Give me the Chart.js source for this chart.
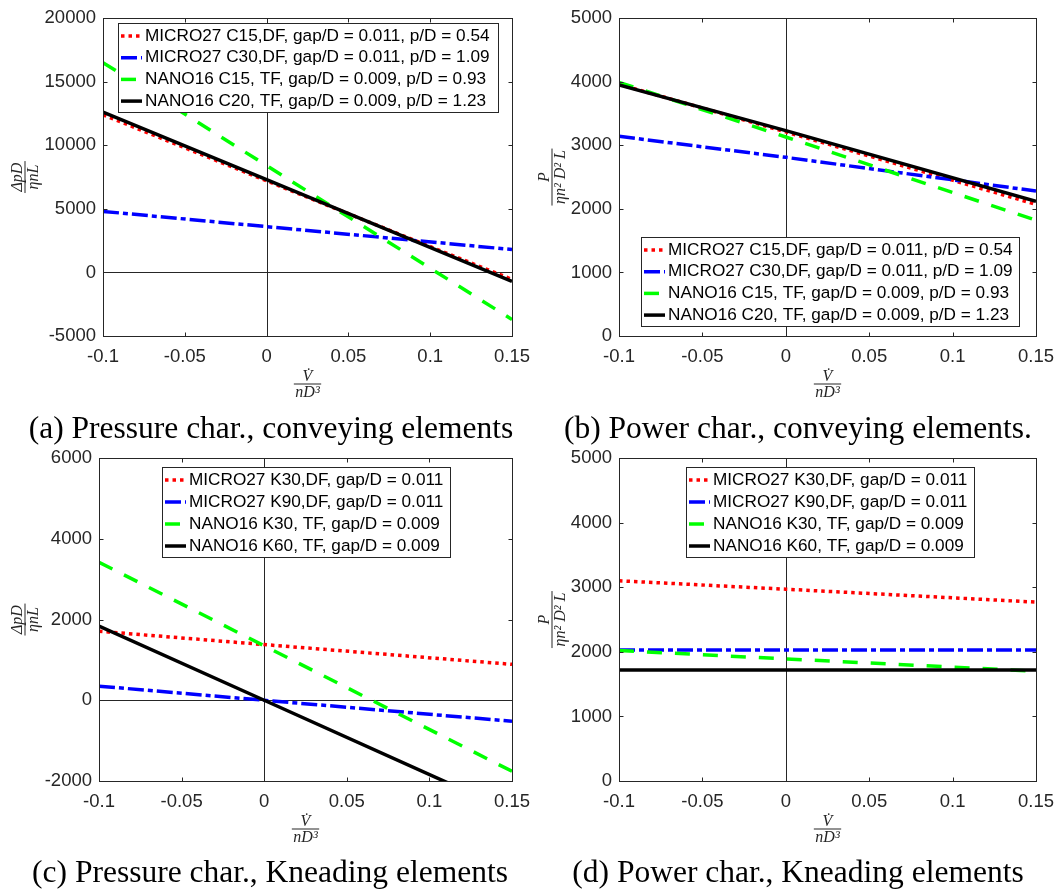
<!DOCTYPE html>
<html>
<head>
<meta charset="utf-8">
<script src="https://cdn.jsdelivr.net/npm/chart.js@4.4.1/dist/chart.umd.min.js"></script>
<style>
  html, body { margin: 0; padding: 0; background: #fff; }
  #page { position: relative; width: 1064px; height: 895px; overflow: hidden; }
  canvas { position: absolute; }
  .caption {
    position: absolute; width: 530px; text-align: center; white-space: nowrap;
    font-family: "Liberation Serif", "Times New Roman", serif; font-size: 31.5px; line-height: 32px; color: #000;
  }
</style>
</head>
<body>
<div id="page">
  <canvas id="chart-a" width="545" height="440" style="left:0;top:0"></canvas>
  <canvas id="chart-b" width="534" height="440" style="left:530px;top:0"></canvas>
  <canvas id="chart-c" width="545" height="455" style="left:0;top:440px"></canvas>
  <canvas id="chart-d" width="534" height="455" style="left:530px;top:440px"></canvas>
  <div class="caption" style="left:6px;top:412px">(a) Pressure char., conveying elements</div>
  <div class="caption" style="left:533px;top:412px">(b) Power char., conveying elements.</div>
  <div class="caption" style="left:5px;top:856px">(c) Pressure char., Kneading elements</div>
  <div class="caption" style="left:533px;top:856px">(d) Power char., Kneading elements</div>
</div>
<script>
// Valores de vazão adimensional onde as curvas foram lidas
const xVals = [-0.1, 0, 0.15];
const xTicks = [-0.1, -0.05, 0, 0.05, 0.1, 0.15];

// (a) Pressão, elementos de transporte
const pressConvMicroC15 = [12400, 7200, -550];
const pressConvMicroC30 = [4800, 3600, 1800];
const pressConvNanoC15 = [16500, 8400, -3700];
const pressConvNanoC20 = [12600, 7300, -700];
const yTicksA = [-5000, 0, 5000, 10000, 15000, 20000];

// (b) Potência, elementos de transporte
const powerConvMicroC15 = [3960, 3210, 2070];
const powerConvMicroC30 = [3140, 2810, 2280];
const powerConvNanoC15 = [3990, 3130, 1820];
const powerConvNanoC20 = [3950, 3230, 2120];
const yTicksB = [0, 1000, 2000, 3000, 4000, 5000];

// (c) Pressão, elementos de mistura
const pressKneadMicroK30 = [1710, 1380, 890];
const pressKneadMicroK90 = [350, 0, -520];
const pressKneadNanoK30 = [3420, 1350, -1760];
const pressKneadNanoK60 = [1840, 0, -2760];
const yTicksC = [-2000, 0, 2000, 4000, 6000];

// (d) Potência, elementos de mistura
const powerKneadMicroK30 = [3100, 2970, 2770];
const powerKneadMicroK90 = [2030, 2030, 2030];
const powerKneadNanoK30 = [2020, 1890, 1700];
const powerKneadNanoK60 = [1720, 1720, 1720];
const yTicksD = [0, 1000, 2000, 3000, 4000, 5000];

const labelsConv = [
  'MICRO27 C15,DF, gap/D = 0.011, p/D = 0.54',
  'MICRO27 C30,DF, gap/D = 0.011, p/D = 1.09',
  'NANO16 C15, TF, gap/D = 0.009, p/D = 0.93',
  'NANO16 C20, TF, gap/D = 0.009, p/D = 1.23'
];
const labelsKnead = [
  'MICRO27 K30,DF, gap/D = 0.011',
  'MICRO27 K90,DF, gap/D = 0.011',
  'NANO16 K30, TF, gap/D = 0.009',
  'NANO16 K60, TF, gap/D = 0.009'
];

// Estilos das linhas (vermelho pontilhado, azul traço-ponto, verde tracejado, preto contínuo)
const seriesStyles = [
  { color: '#ff0000', dash: [3.5, 4] },
  { color: '#0000ff', dash: [16, 4, 5, 4] },
  { color: '#00ff00', dash: [15, 13] },
  { color: '#000000', dash: [] }
];

const axisColor = '#262626';
const tickFont = { family: '"Liberation Sans", Arial, sans-serif', size: 18.5 };
const legendFont = '17.2px "Liberation Sans", Arial, sans-serif';
const mathFont = 'italic 16px "Liberation Serif", "Times New Roman", serif';

/**
 * Desenha uma fração (numerador / denominador) centrada em (0,0)
 */
function drawFraction(ctx, num, den) {
  ctx.font = mathFont;
  ctx.fillStyle = axisColor;
  ctx.textAlign = 'center';
  ctx.textBaseline = 'alphabetic';
  const w = Math.max(ctx.measureText(num).width, ctx.measureText(den).width) + 3;
  ctx.fillText(num, 0, -3);
  ctx.fillText(den, 0, 13);
  ctx.fillRect(-w / 2, -0.5, w, 1);
}

// Plugin: caixa estilo MATLAB, ticks internos, linhas do zero, legenda interna e rótulos
const matlabAxes = {
  id: 'matlabAxes',
  beforeDatasetsDraw(chart) {
    const { ctx, chartArea: a, scales: { x, y } } = chart;
    ctx.save();
    ctx.strokeStyle = axisColor;
    ctx.lineWidth = 1;
    ctx.beginPath();
    const px = Math.round(x.getPixelForValue(0)) + 0.5;
    ctx.moveTo(px, a.top);
    ctx.lineTo(px, a.bottom);
    if (y.min < 0) {
      const py = Math.round(y.getPixelForValue(0)) + 0.5;
      ctx.moveTo(a.left, py);
      ctx.lineTo(a.right, py);
    }
    ctx.stroke();
    ctx.restore();
  },
  afterDatasetsDraw(chart, args, opts) {
    const { ctx, chartArea: a, scales: { x, y } } = chart;
    const l = Math.round(a.left) + 0.5, r = Math.round(a.right) + 0.5;
    const t = Math.round(a.top) + 0.5, b = Math.round(a.bottom) + 0.5;
    ctx.save();
    ctx.strokeStyle = axisColor;
    ctx.lineWidth = 1;
    ctx.strokeRect(l, t, r - l, b - t);
    ctx.beginPath();
    x.ticks.forEach(tk => {
      const px = Math.round(x.getPixelForValue(tk.value)) + 0.5;
      ctx.moveTo(px, b); ctx.lineTo(px, b - 4);
      ctx.moveTo(px, t); ctx.lineTo(px, t + 4);
    });
    y.ticks.forEach(tk => {
      const py = Math.round(y.getPixelForValue(tk.value)) + 0.5;
      ctx.moveTo(l, py); ctx.lineTo(l + 4, py);
      ctx.moveTo(r, py); ctx.lineTo(r - 4, py);
    });
    ctx.stroke();

    // Legenda dentro da área do gráfico
    const L = opts.legend;
    ctx.fillStyle = '#fff';
    ctx.fillRect(L.left, L.top, L.width, L.height);
    ctx.strokeRect(L.left + 0.5, L.top + 0.5, L.width, L.height);
    chart.data.datasets.forEach((ds, i) => {
      const cy = L.top + 13 + i * L.step;
      ctx.save();
      ctx.strokeStyle = ds.borderColor;
      ctx.lineWidth = ds.borderWidth;
      ctx.lineCap = 'butt';
      ctx.setLineDash(ds.borderDash);
      ctx.beginPath();
      ctx.moveTo(L.left + 3, cy);
      ctx.lineTo(L.left + 24, cy);
      ctx.stroke();
      ctx.restore();
      ctx.font = legendFont;
      ctx.fillStyle = '#000';
      ctx.textAlign = 'left';
      ctx.textBaseline = 'middle';
      ctx.fillText(ds.label, L.left + 27, cy);
    });
    ctx.restore();
  },
  afterDraw(chart, args, opts) {
    const { ctx, chartArea: a } = chart;
    ctx.save();
    ctx.translate((a.left + a.right) / 2, a.bottom + 48);
    drawFraction(ctx, 'V\u0307', 'nD³');
    ctx.restore();
    ctx.save();
    ctx.translate(opts.yLabelX, (a.top + a.bottom) / 2);
    ctx.rotate(-Math.PI / 2);
    drawFraction(ctx, opts.yNum, opts.yDen);
    ctx.restore();
  }
};

/**
 * Cria um gráfico com a área de plotagem fixa em pixels
 */
function makeChart(id, cfg) {
  const canvas = document.getElementById(id);
  const area = cfg.area;
  return new Chart(canvas, {
    type: 'line',
    data: {
      datasets: cfg.series.map((vals, i) => ({
        label: cfg.labels[i],
        data: xVals.map((xv, j) => ({ x: xv, y: vals[j] })),
        borderColor: seriesStyles[i].color,
        borderDash: seriesStyles[i].dash,
        borderWidth: 3.5,
        borderCapStyle: 'butt',
        pointRadius: 0,
        fill: false,
        tension: 0,
        order: 4 - i,
        clip: 0
      }))
    },
    options: {
      responsive: false,
      animation: false,
      events: [],
      layout: { padding: { left: 0, top: area.top, right: canvas.width - area.right, bottom: 0 } },
      plugins: {
        legend: { display: false },
        tooltip: { enabled: false },
        matlabAxes: { legend: cfg.legend, yLabelX: cfg.yLabelX, yNum: cfg.yNum, yDen: cfg.yDen }
      },
      scales: {
        x: {
          type: 'linear',
          min: -0.1,
          max: 0.15,
          afterBuildTicks: s => { s.ticks = xTicks.map(v => ({ value: v })); },
          afterFit: s => { s.height = canvas.height - area.bottom; },
          grid: { display: false, drawTicks: false },
          border: { display: false },
          ticks: { padding: 10, color: axisColor, font: tickFont, maxRotation: 0, autoSkip: false, callback: v => String(v) }
        },
        y: {
          type: 'linear',
          min: cfg.yTicks[0],
          max: cfg.yTicks[cfg.yTicks.length - 1],
          afterBuildTicks: s => { s.ticks = cfg.yTicks.map(v => ({ value: v })); },
          afterFit: s => { s.width = area.left; },
          grid: { display: false, drawTicks: false },
          border: { display: false },
          ticks: { padding: 7, color: axisColor, font: tickFont, autoSkip: false, callback: v => String(v) }
        }
      }
    },
    plugins: [matlabAxes]
  });
}

makeChart('chart-a', {
  series: [pressConvMicroC15, pressConvMicroC30, pressConvNanoC15, pressConvNanoC20],
  labels: labelsConv,
  yTicks: yTicksA,
  area: { left: 103, top: 13, right: 512, bottom: 336 },
  legend: { left: 118, top: 23, width: 380, height: 89, step: 21.7 },
  yLabelX: 25, yNum: 'ΔpD', yDen: 'ηnL'
});

makeChart('chart-b', {
  series: [powerConvMicroC15, powerConvMicroC30, powerConvNanoC15, powerConvNanoC20],
  labels: labelsConv,
  yTicks: yTicksB,
  area: { left: 89, top: 13, right: 511, bottom: 336 },
  legend: { left: 111, top: 237, width: 378, height: 89, step: 21.7 },
  yLabelX: 22, yNum: 'P', yDen: 'ηn² D² L'
});

makeChart('chart-c', {
  series: [pressKneadMicroK30, pressKneadMicroK90, pressKneadNanoK30, pressKneadNanoK60],
  labels: labelsKnead,
  yTicks: yTicksC,
  area: { left: 99, top: 17, right: 512, bottom: 341 },
  legend: { left: 162, top: 27, width: 288, height: 90, step: 22 },
  yLabelX: 25, yNum: 'ΔpD', yDen: 'ηnL'
});

makeChart('chart-d', {
  series: [powerKneadMicroK30, powerKneadMicroK90, powerKneadNanoK30, powerKneadNanoK60],
  labels: labelsKnead,
  yTicks: yTicksD,
  area: { left: 89, top: 17, right: 511, bottom: 341 },
  legend: { left: 156, top: 27, width: 288, height: 90, step: 22 },
  yLabelX: 22, yNum: 'P', yDen: 'ηn² D² L'
});
</script>
</body>
</html>
